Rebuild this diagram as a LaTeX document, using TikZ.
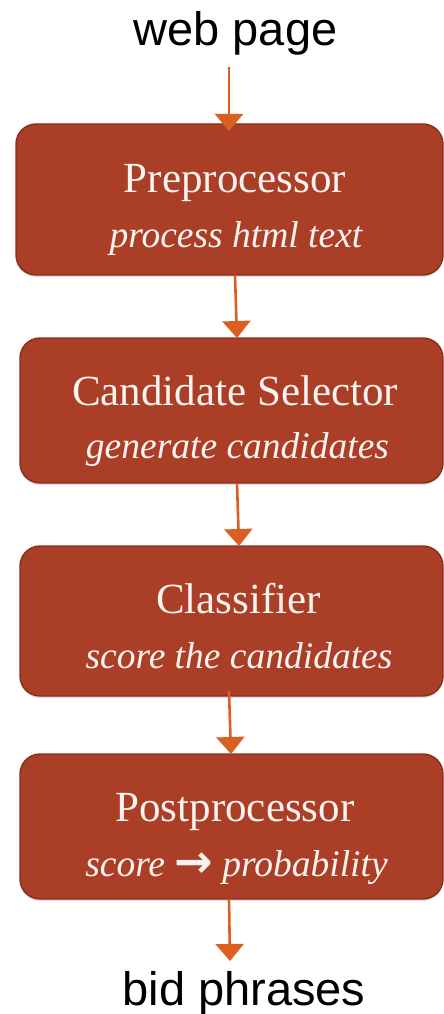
\documentclass[tikz,border=0pt]{standalone}
\usepackage{fontspec}
\setmainfont{Liberation Serif}
\newfontfamily\labelfont{Liberation Sans}
\newfontfamily\symfont{DejaVu Sans}
\usetikzlibrary{arrows.meta,shadows}
\definecolor{boxfill}{HTML}{AB3E27}
\definecolor{boxedge}{HTML}{8A2E1B}
\definecolor{arrowcol}{HTML}{DB5F20}
\definecolor{boxtext}{HTML}{FBF3EF}
\tikzset{
  stagebox/.style={draw=boxedge, line width=1.4pt, fill=boxfill, rounded corners=20pt,
    inner sep=0pt, drop shadow={opacity=0.25, shadow xshift=0pt, shadow yshift=-2pt}},
  titletext/.style={anchor=base, inner sep=0pt, text=boxtext, font=\fontsize{43}{50}\selectfont},
  subtext/.style={anchor=base, inner sep=0pt, text=boxtext, font=\fontsize{37.5}{44}\selectfont\itshape},
  endtext/.style={anchor=base, inner sep=0pt, text=black, font=\labelfont\fontsize{47}{54}\selectfont},
  flow/.style={draw=arrowcol, line width=2.6pt, -{Triangle[width=28pt,length=17pt]}, arrowcol}
}
\begin{document}
\begin{tikzpicture}[x=1pt,y=-1pt]
\useasboundingbox (0,0) rectangle (444,1014);
% boxes
\node[stagebox, minimum width=427pt, minimum height=151pt] (b1) at (229.5,199.5) {};
\node[stagebox, minimum width=423pt, minimum height=145pt] (b2) at (231.5,410.5) {};
\node[stagebox, minimum width=423pt, minimum height=150pt] (b3) at (231.5,621) {};
\node[stagebox, minimum width=423pt, minimum height=145pt] (b4) at (231.5,826.5) {};
% texts
\node[endtext] (top) at (235.5,46) {web page};
\node[endtext] (bottom) at (244,1005) {bid phrases};
\node[titletext] (t1) at (235,192) {Preprocessor};
\node[subtext] (s1) at (236,247) {process html text};
\node[titletext] (t2) at (235,405) {Candidate Selector};
\node[subtext] (s2) at (237.5,458) {generate candidates};
\node[titletext] (t3) at (238.5,613) {Classifier};
\node[subtext] (s3) at (239,668) {score the candidates};
\node[titletext] (t4) at (235,821) {Postprocessor};
\node[subtext] (s4) at (236.5,876) {score {\upshape\symfont\bfseries\fontsize{46}{50}\selectfont\raisebox{-1pt}{→}} probability};
% connector end points
\coordinate (a0s) at (229,67);
\coordinate (a0e) at (229,131);
\coordinate (a1s) at (235,275);
\coordinate (a1e) at (237,338);
\coordinate (a2s) at (237,483);
\coordinate (a2e) at (239,546);
\coordinate (a3s) at (229,691);
\coordinate (a3e) at (231,754);
\coordinate (a4s) at (229,899);
\coordinate (a4e) at (230,961);
\draw[flow] (a0s) -- (a0e);
\draw[flow] (a1s) -- (a1e);
\draw[flow] (a2s) -- (a2e);
\draw[flow] (a3s) -- (a3e);
\draw[flow] (a4s) -- (a4e);
\end{tikzpicture}
\end{document}
